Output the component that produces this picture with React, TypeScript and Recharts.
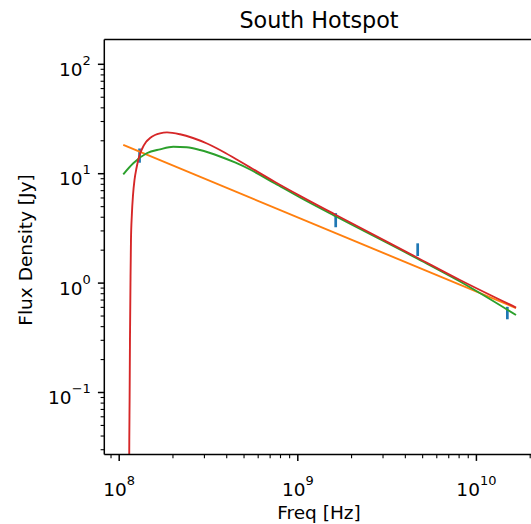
import React from 'react';
import { ComposedChart, Line, Scatter, ErrorBar, XAxis, YAxis, ReferenceLine } from 'recharts';

const FONT = '"DejaVu Sans", sans-serif';

// observed points: frequency [Hz], flux [Jy], 1-sigma error
const obsFreq = [1.3e8, 1.63e9, 4.69e9, 1.49e10];
const obsFlux = [14.8, 3.8, 2.04, 0.537];
const obsErr = [2.2, 0.56, 0.27, 0.07];

// power law (orange)
const plFreq = [1.054e8, 1.666e10];
const plFlux = [18.3, 0.592];

// curved model (green)
const curvFreq = [1.054e8, 1.199e8, 1.426e8, 1.692e8, 2.009e8, 2.387e8, 2.834e8, 3.667e8, 4.451e8, 5.4e8, 7.454e8, 1.029e9, 1.636e9, 4.65e9, 8.09e9, 1.666e10];
const curvFlux = [9.87, 12.45, 15.37, 16.71, 17.65, 17.43, 16.47, 14.36, 12.66, 10.92, 8.14, 6.06, 4.06, 1.679, 1.034, 0.511];

// absorbed model (red)
const absFreq = [1.1333e8, 1.139e8, 1.1436e8, 1.149e8, 1.157e8, 1.164e8, 1.177e8, 1.195e8, 1.218e8, 1.25e8, 1.291e8, 1.342e8, 1.413e8, 1.488e8, 1.586e8, 1.692e8, 1.852e8, 2.19e8, 2.589e8, 3.1e8, 3.667e8, 4.451e8, 5.4e8, 7.454e8, 1.029e9, 1.636e9, 4.65e9, 8.09e9, 1.666e10];
const absFlux = [0.005, 0.0368, 0.0854, 0.302, 1.07, 2.48, 4.19, 6.39, 8.76, 11.27, 14.21, 16.82, 19.49, 21.2, 22.58, 23.4, 23.85, 22.92, 21.2, 18.88, 16.47, 13.77, 11.44, 8.4, 6.27, 4.19, 1.714, 1.067, 0.598];

const X_DOMAIN = [Math.pow(10, 7.9166), Math.pow(10, 10.328)];
const Y_DOMAIN = [Math.pow(10, -1.5667), Math.pow(10, 2.2258)];

const xMajor = [1e8, 1e9, 1e10];
const yMajor = [1e-1, 1e0, 1e1, 1e2];
const minorMult = [2, 3, 4, 5, 6, 7, 8, 9];

const withMinor = (decades: number[], dom: number[]) => {
  const out: number[] = [];
  decades.forEach((d) => {
    out.push(d);
    minorMult.forEach((m) => out.push(m * d));
  });
  return out.filter((v) => v >= dom[0] && v <= dom[1]).sort((a, b) => a - b);
};

const xTicks = withMinor([1e7, 1e8, 1e9, 1e10], X_DOMAIN);
const yTicks = withMinor([1e-2, 1e-1, 1e0, 1e1, 1e2], Y_DOMAIN);

const pair = (fs: number[], ss: number[]) => fs.map((f, i) => ({ f, s: ss[i] }));
const obsData = obsFreq.map((f, i) => ({ f, s: obsFlux[i], e: obsErr[i] }));
const plData = pair(plFreq, plFlux);
const curvData = pair(curvFreq, curvFlux);
const absData = pair(absFreq, absFlux);

const isMajor = (v: number, majors: number[]) => majors.some((m) => Math.abs(v / m - 1) < 1e-9);
const expOf = (v: number) => {
  const e = Math.round(Math.log10(v));
  return e < 0 ? '\u2212' + Math.abs(e) : String(e);
};

const XTick = (props: any) => {
  const { x, y, payload } = props;
  const major = isMajor(payload.value, xMajor);
  return (
    <g>
      <line x1={x} x2={x} y1={y} y2={y + (major ? 6.4 : 3.7)} stroke="#000" strokeWidth={major ? 1.5 : 1.1} />
      {major && (
        <text x={x} y={y + 41.5} textAnchor="middle" fontFamily={FONT} fontSize={18.5} fill="#000">
          10<tspan dy={-11} fontSize={13}>{expOf(payload.value)}</tspan>
        </text>
      )}
    </g>
  );
};

const YTick = (props: any) => {
  const { x, y, payload } = props;
  const major = isMajor(payload.value, yMajor);
  return (
    <g>
      <line x1={x} x2={x - (major ? 6.4 : 3.7)} y1={y} y2={y} stroke="#000" strokeWidth={major ? 1.5 : 1.1} />
      {major && (
        <text x={x - 13.5} y={y + 11.5} textAnchor="end" fontFamily={FONT} fontSize={18.5} fill="#000">
          10<tspan dy={-11} fontSize={13}>{expOf(payload.value)}</tspan>
        </text>
      )}
    </g>
  );
};

export default function App() {
  return (
    <div style={{ position: 'absolute', left: 0, top: 0, width: 531, height: 524, overflow: 'hidden', background: '#fff' }}>
      <ComposedChart width={560} height={524} margin={{ top: 39.6, right: 25, bottom: 0, left: 0 }}>
        <XAxis
          dataKey="f"
          type="number"
          scale="log"
          domain={X_DOMAIN}
          allowDataOverflow
          ticks={xTicks}
          interval={0}
          tick={<XTick />}
          tickLine={false}
          tickSize={0}
          tickMargin={0}
          height={69.5}
          axisLine={{ stroke: '#000', strokeWidth: 1.5 }}
        />
        <YAxis
          dataKey="s"
          type="number"
          scale="log"
          domain={Y_DOMAIN}
          allowDataOverflow
          ticks={yTicks}
          interval={0}
          tick={<YTick />}
          tickLine={false}
          tickSize={0}
          tickMargin={0}
          width={104.3}
          axisLine={{ stroke: '#000', strokeWidth: 1.5 }}
        />
        <ReferenceLine y={Y_DOMAIN[1]} stroke="#000" strokeWidth={1.5} />
        <ReferenceLine x={X_DOMAIN[1]} stroke="#000" strokeWidth={1.5} />
        <Scatter data={obsData} dataKey="s" shape={() => <g />} isAnimationActive={false}>
          <ErrorBar dataKey="e" direction="y" width={0} stroke="#1f77b4" strokeWidth={2.7} />
        </Scatter>
        <Line data={plData} dataKey="s" type="linear" stroke="#ff7f0e" strokeWidth={1.9} dot={false} activeDot={false} isAnimationActive={false} />
        <Line data={curvData} dataKey="s" type="monotone" stroke="#2ca02c" strokeWidth={1.9} dot={false} activeDot={false} isAnimationActive={false} />
        <Line data={absData} dataKey="s" type="monotone" stroke="#d62728" strokeWidth={1.9} dot={false} activeDot={false} isAnimationActive={false} />
      </ComposedChart>
      <svg width={531} height={524} style={{ position: 'absolute', left: 0, top: 0, pointerEvents: 'none' }}>
        <text x={319} y={28} textAnchor="middle" fontFamily={FONT} fontSize={22.3} fill="#000">South Hotspot</text>
        <text x={319} y={519} textAnchor="middle" fontFamily={FONT} fontSize={18.5} fill="#000">Freq [Hz]</text>
        <text transform="translate(32,250) rotate(-90)" textAnchor="middle" fontFamily={FONT} fontSize={18.5} fill="#000">Flux Density [Jy]</text>
      </svg>
    </div>
  );
}
